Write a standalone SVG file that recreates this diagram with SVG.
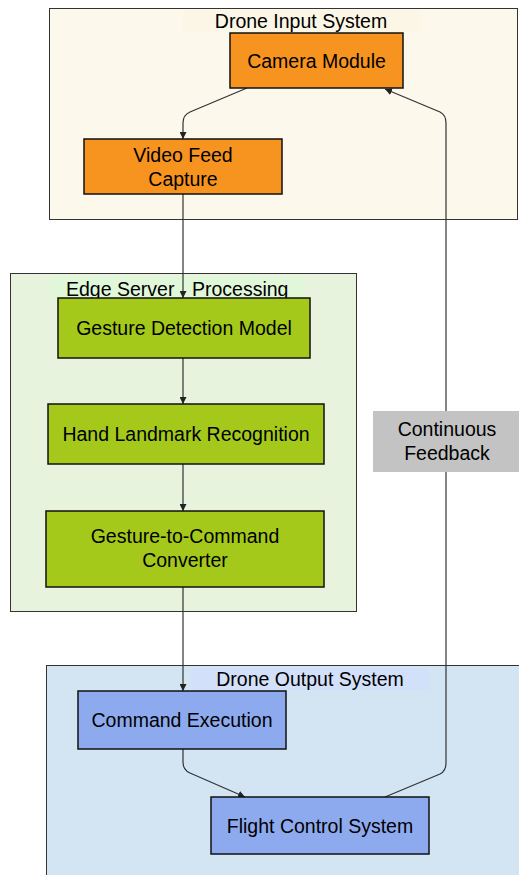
<svg xmlns="http://www.w3.org/2000/svg" width="519" height="875" viewBox="0 0 519 875">
<style>
text{font-family:"Liberation Sans",Arial,sans-serif;font-size:19.5px;fill:#000;text-anchor:middle}
.cl{stroke:#333;stroke-width:1}
.nd{stroke:#111;stroke-width:1.5}
.e{fill:none;stroke:#333;stroke-width:1.2}
</style>
<defs>
<marker id="ah" viewBox="0 0 10 10" refX="10" refY="5" markerWidth="7" markerHeight="7" orient="auto" markerUnits="userSpaceOnUse">
<path d="M0,0 L10,5 L0,10 z" fill="#222"/>
</marker>
</defs>
<g id="cluster-input">
<rect class="cl" x="49.5" y="8.5" width="468" height="211" fill="#fcf8ec"/>
<rect x="183" y="10" width="237" height="22" fill="#fbf6e6"/>
<text x="301" y="28">Drone Input System</text>
</g>
<g id="cluster-edge">
<rect class="cl" x="10.5" y="273.5" width="346" height="338" fill="#e7f3dc"/>
<rect x="50" y="276" width="253" height="22" fill="#e1f7d9"/>
<text x="66" y="296" style="text-anchor:start">Edge Server</text>
<text x="192" y="296" style="text-anchor:start">Processing</text>
</g>
<g id="cluster-output">
<rect class="cl" x="46.5" y="665.5" width="480" height="220" fill="#d3e4f3"/>
<rect x="191" y="668" width="238" height="22" fill="#d3e0fa"/>
<text x="310" y="686">Drone Output System</text>
</g>
<g id="edges">
<path class="e" d="M247,88 L190,112 Q183,115 183,123 L183,139" marker-end="url(#ah)"/>
<path class="e" d="M183,194 L183,298" marker-end="url(#ah)"/>
<path class="e" d="M183,358 L183,404" marker-end="url(#ah)"/>
<path class="e" d="M183,464 L183,511" marker-end="url(#ah)"/>
<path class="e" d="M183,587 L183,691" marker-end="url(#ah)"/>
<path class="e" d="M183,749 L183,762 Q183,770 190,773 L245,797" marker-end="url(#ah)"/>
<path class="e" d="M385,797 L440,774 Q446,771 446,763 L446,472"/>
<path class="e" d="M446,411 L446,123 Q446,115 440,112 L385,89" marker-end="url(#ah)"/>
</g>
<g id="camera-module">
<rect class="nd" x="230" y="33" width="173" height="55" fill="#f7941f"/>
<text x="316.5" y="68">Camera Module</text>
</g>
<g id="video-feed-capture">
<rect class="nd" x="84" y="139" width="198" height="55" fill="#f7941f"/>
<text x="183" y="162">Video Feed</text>
<text x="183" y="186">Capture</text>
</g>
<g id="gesture-detection-model">
<rect class="nd" x="58" y="298" width="252" height="60" fill="#a5c91b"/>
<text x="184" y="335">Gesture Detection Model</text>
</g>
<g id="hand-landmark-recognition">
<rect class="nd" x="48" y="404" width="276" height="60" fill="#a5c91b"/>
<text x="186" y="441">Hand Landmark Recognition</text>
</g>
<g id="gesture-to-command">
<rect class="nd" x="46" y="511" width="278" height="76" fill="#a5c91b"/>
<text x="185" y="543">Gesture-to-Command</text>
<text x="185" y="567">Converter</text>
</g>
<g id="command-execution">
<rect class="nd" x="78" y="691" width="208" height="58" fill="#8eaaef"/>
<text x="182" y="727">Command Execution</text>
</g>
<g id="flight-control-system">
<rect class="nd" x="211" y="797" width="218" height="57" fill="#8eaaef"/>
<text x="320" y="833">Flight Control System</text>
</g>
<g id="continuous-feedback">
<rect x="373" y="411" width="146" height="61" fill="#c3c3c3"/>
<text x="447" y="436">Continuous</text>
<text x="447" y="460">Feedback</text>
</g>
</svg>
